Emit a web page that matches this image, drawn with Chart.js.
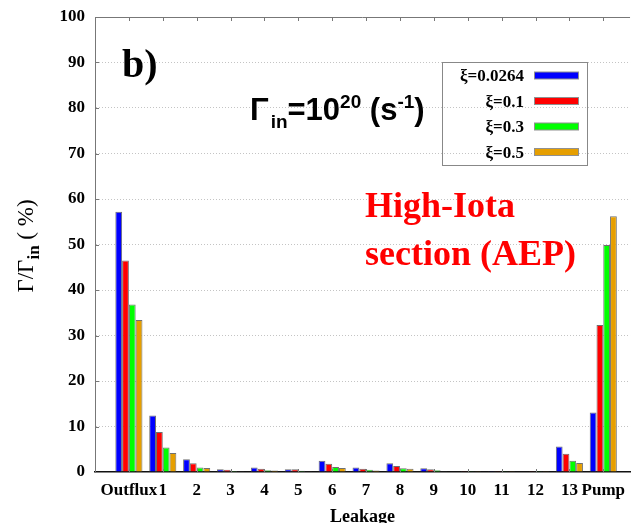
<!DOCTYPE html>
<html><head><meta charset="utf-8">
<script src="https://cdn.jsdelivr.net/npm/chart.js@4.4.0/dist/chart.umd.min.js"></script>
<style>html,body{margin:0;padding:0;background:#fff}#wrap{width:633px;height:523px}</style>
</head><body><div id="wrap"><canvas id="c" width="633" height="523"></canvas></div>
<script>
const categories = ['Outflux','1','2','3','4','5','6','7','8','9','10','11','12','13','Pump'];
const xi00264 = [57.2,12.4,2.8,0.6,1.0,0.6,2.5,1.0,1.9,0.8,0.1,0.05,0.1,5.6,13.1];
const xi01    = [46.5,8.8,1.9,0.5,0.7,0.6,1.8,0.7,1.3,0.6,0.05,0.05,0.05,4.0,32.3];
const xi03    = [36.8,5.4,1.0,0.2,0.4,0.25,1.1,0.5,0.8,0.4,0.05,0.03,0.03,2.5,49.9];
const xi05    = [33.4,4.2,0.9,0.15,0.35,0.15,0.9,0.35,0.7,0.15,0.03,0.03,0.03,2.0,56.2];
const seriesLabels = ['ξ=0.0264','ξ=0.1','ξ=0.3','ξ=0.5'];
const seriesColors = ['#0000ff','#ff0000','#00ff00','#e69f00'];
const yTicks = [0,10,20,30,40,50,60,70,80,90,100];

const SERIF = '"Liberation Serif","Times New Roman",serif';
const SANS = '"Liberation Sans",Arial,sans-serif';

const allSeries = [xi00264, xi01, xi03, xi05];
const datasets = allSeries.map((vals, k) => ({
  label: seriesLabels[k],
  data: vals.map((v, i) => ({x: i, y: v})),
  backgroundColor: seriesColors[k],
  borderColor: '#707070',
  borderWidth: 1,
  categoryPercentage: 0.8,
  barPercentage: 1.0
}));

function flow(ctx, pieces, x, y) {
  for (const p of pieces) {
    ctx.font = p.f;
    ctx.fillText(p.t, x, y + (p.dy || 0));
    x += ctx.measureText(p.t).width + (p.gap || 0);
  }
}
function flowWidth(ctx, pieces) {
  let w = 0;
  for (const p of pieces) { ctx.font = p.f; w += ctx.measureText(p.t).width + (p.gap || 0); }
  return w;
}

const decor = {
  id: 'decor',
  afterDatasetsDraw(chart) {
    const {ctx, chartArea: a, scales} = chart;
    const xs = scales.x, ys = scales.y;
    ctx.save();
    ctx.strokeStyle = '#777';
    ctx.lineWidth = 1;
    ctx.beginPath();
    ctx.moveTo(a.left, a.top + 0.5); ctx.lineTo(a.right, a.top + 0.5);
    ctx.stroke();
    ctx.beginPath();
    categories.forEach((c, i) => {
      const px = Math.round(xs.getPixelForValue(i)) + 0.5;
      ctx.moveTo(px, a.top); ctx.lineTo(px, a.top + 4);
      ctx.moveTo(px, a.bottom); ctx.lineTo(px, a.bottom - 3);
    });
    yTicks.forEach(v => {
      if (v === 0 || v === 100) return;
      const py = Math.round(ys.getPixelForValue(v)) + 0.5;
      ctx.moveTo(a.left, py); ctx.lineTo(a.left + 4, py);
    });
    ctx.stroke();
    ctx.restore();
  },
  afterDraw(chart) {
    const {ctx} = chart;
    ctx.save();
    ctx.fillStyle = '#000';
    ctx.textBaseline = 'alphabetic';
    ctx.textAlign = 'left';
    ctx.font = 'bold 40px ' + SERIF;
    ctx.fillText('b)', 122, 77);
    const main = 'bold 31px ' + SANS, small = 'bold 19px ' + SANS;
    flow(ctx, [
      {t: 'Γ', f: main, gap: 2},
      {t: 'in', f: small, dy: 8},
      {t: '=10', f: main},
      {t: '20', f: small, dy: -12},
      {t: ' (s', f: main},
      {t: '-1', f: small, dy: -12},
      {t: ')', f: main}
    ], 250, 120);
    ctx.fillStyle = '#ff0000';
    ctx.font = 'bold 36px ' + SERIF;
    ctx.fillText('High-Iota', 365, 217);
    ctx.fillText('section (AEP)', 365, 265);
    ctx.fillStyle = '#000';
    const ym = '23px ' + SERIF, ys = 'bold 17px ' + SERIF;
    const yp = [
      {t: 'Γ/Γ', f: ym},
      {t: 'in', f: ys, dy: 6},
      {t: ' ( %)', f: ym}
    ];
    ctx.translate(33, 246);
    ctx.rotate(-Math.PI / 2);
    flow(ctx, yp, -flowWidth(ctx, yp) / 2, 0);
    ctx.setTransform(1, 0, 0, 1, 0, 0);
    ctx.strokeStyle = '#888';
    ctx.lineWidth = 1;
    ctx.strokeRect(442.5, 62.5, 145, 103);
    ctx.font = 'bold 17px ' + SERIF;
    ctx.textAlign = 'right';
    chart.data.datasets.forEach((ds, i) => {
      const cy = 75.5 + i * 25.5;
      ctx.fillStyle = '#000';
      ctx.fillText(ds.label, 524, cy + 5.5);
      ctx.fillStyle = ds.backgroundColor;
      ctx.fillRect(534, cy - 3.5, 44, 7);
      ctx.strokeStyle = '#909090';
      ctx.strokeRect(534.5, cy - 3.5, 44, 7);
    });
    ctx.restore();
  }
};

new Chart(document.getElementById('c'), {
  type: 'bar',
  data: {datasets},
  options: {
    responsive: false,
    devicePixelRatio: 1,
    animation: false,
    layout: {padding: {left: 0, right: 0, top: 17, bottom: 0}},
    plugins: {legend: {display: false}, tooltip: {enabled: false}, title: {display: false}},
    scales: {
      x: {
        type: 'linear',
        position: 'bottom',
        offset: false,
        min: -1,
        max: 14.79,
        afterFit(s) { s.height = 51; },
        grid: {display: true, offset: false, color: 'rgba(0,0,0,0)', drawTicks: false},
        border: {display: true, color: '#111', width: 1.5},
        ticks: {
          stepSize: 1,
          includeBounds: false,
          autoSkip: false,
          maxRotation: 0,
          padding: 8,
          color: '#000',
          font: {family: SERIF, size: 17, weight: 'bold'},
          callback: (v) => (Number.isInteger(v) && v >= 0 && v < categories.length) ? categories[v] : ''
        },
        title: {display: true, text: 'Leakage', color: '#000', font: {family: SERIF, size: 18, weight: 'bold', lineHeight: 1}, padding: {top: 0, bottom: -3}}
      },
      y: {
        min: 0,
        max: 100,
        afterFit(s) { s.width = 95; s.paddingTop = 0; s.paddingBottom = 0; },
        grid: {
          drawTicks: false,
          lineWidth: 1,
          color: (c) => (c.tick && c.tick.value > 0 && c.tick.value < 100) ? '#c4c4c4' : 'rgba(0,0,0,0)'
        },
        border: {display: true, color: '#777', width: 1, dash: [1, 2]},
        ticks: {
          stepSize: 10,
          padding: 10,
          color: '#000',
          font: {family: SERIF, size: 17, weight: 'bold'},
          callback: (v) => yTicks.includes(v) ? String(v) : ''
        }
      }
    }
  },
  plugins: [decor]
});
</script>
</body></html>
